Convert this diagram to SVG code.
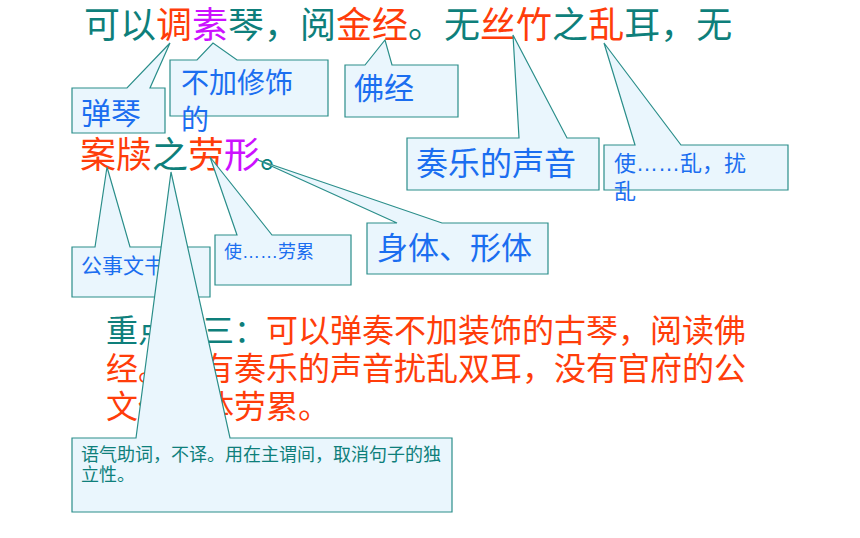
<svg xmlns="http://www.w3.org/2000/svg" width="860" height="538" viewBox="0 0 860 538">
<style>
.t{font-family:"Liberation Sans","Noto Sans CJK SC",sans-serif}
.tl{fill:#0E7F7B}
.rd{fill:#FF3D0A}
.mg{fill:#CC11FF}
.bl{fill:#1B6EF0}
.co{fill:#EAF6FD;stroke:#2A8E8A;stroke-width:1.2}
</style>
<rect width="860" height="538" fill="#fff"/>
<g id="main-text">
<text class="t" x="84" y="38" font-size="36"><tspan class="tl">可以</tspan><tspan class="rd">调</tspan><tspan class="mg">素</tspan><tspan class="tl">琴，阅</tspan><tspan class="rd">金经</tspan><tspan class="tl">。无</tspan><tspan class="rd">丝竹</tspan><tspan class="tl">之</tspan><tspan class="rd">乱</tspan><tspan class="tl">耳，无</tspan></text>
<text class="t" x="80" y="168" font-size="36"><tspan class="rd">案牍</tspan><tspan class="tl">之</tspan><tspan class="rd">劳</tspan><tspan class="mg">形</tspan><tspan class="tl">。</tspan></text>
</g>
<g id="translation">
<text class="t" x="106" y="342" font-size="32"><tspan class="tl">重点句三：</tspan><tspan class="rd">可以弹奏不加装饰的古琴，阅读佛</tspan></text>
<text class="t rd" x="106" y="380" font-size="32">经。没有奏乐的声音扰乱双耳，没有官府的公</text>
<text class="t rd" x="106" y="418" font-size="32">文使身体劳累。</text>
</g>
<g id="connectors">
</g>
<g id="c-tanqin">
<path class="co" d="M72,88 L127,88 L170,43 L150,88 L165,88 L165,133 L72,133 Z"/>
<text class="t bl" x="81" y="124" font-size="30">弹琴</text>
</g>
<g id="c-bujia">
<path class="co" d="M170,60 L197,60 L213,43 L237,60 L328,60 L328,116 L170,116 Z"/>
<text class="t bl" x="181" y="93" font-size="28">不加修饰</text>
<text class="t bl" x="181" y="130" font-size="28">的</text>
</g>
<g id="c-fojing">
<path class="co" d="M345,65 L365,65 L385,40 L392,65 L458,65 L458,117 L345,117 Z"/>
<text class="t bl" x="354" y="99" font-size="30">佛经</text>
</g>
<g id="c-zouyue">
<path class="co" d="M407,138 L519,138 L513,35 L567,138 L599,138 L599,190 L407,190 Z"/>
<text class="t bl" x="416" y="175" font-size="32">奏乐的声音</text>
</g>
<g id="c-luan">
<path class="co" d="M604,145 L635,145 L604,43 L681,145 L788,145 L788,190 L604,190 Z"/>
<text class="t bl" x="614" y="171" font-size="22">使……乱，扰</text>
<text class="t bl" x="614" y="199" font-size="22">乱</text>
</g>
<g id="c-gongshi">
<path class="co" d="M72,247 L95,247 L107,167 L130,247 L210,247 L210,297 L72,297 Z"/>
<text class="t bl" x="81" y="273" font-size="21">公事文书</text>
</g>
<g id="c-lao">
<path class="co" d="M215,235 L237,235 L210,157 L272,235 L351,235 L351,285 L215,285 Z"/>
<text class="t bl" x="224" y="258" font-size="18">使……劳累</text>
</g>
<g id="c-shenti">
<path class="co" d="M367,223 L397,223 L258,160 L442,223 L548,223 L548,274 L367,274 Z"/>
<text class="t bl" x="377" y="259" font-size="31">身体、形体</text>
</g>
<g id="c-zhi">
<path class="co" d="M72,438 L136,438 L171,172 L230,438 L452,438 L452,512 L72,512 Z"/>
<text class="t tl" x="81" y="461" font-size="18">语气助词，不译。用在主谓间，取消句子的独</text>
<text class="t tl" x="81" y="481" font-size="18">立性。</text>
</g>
</svg>
